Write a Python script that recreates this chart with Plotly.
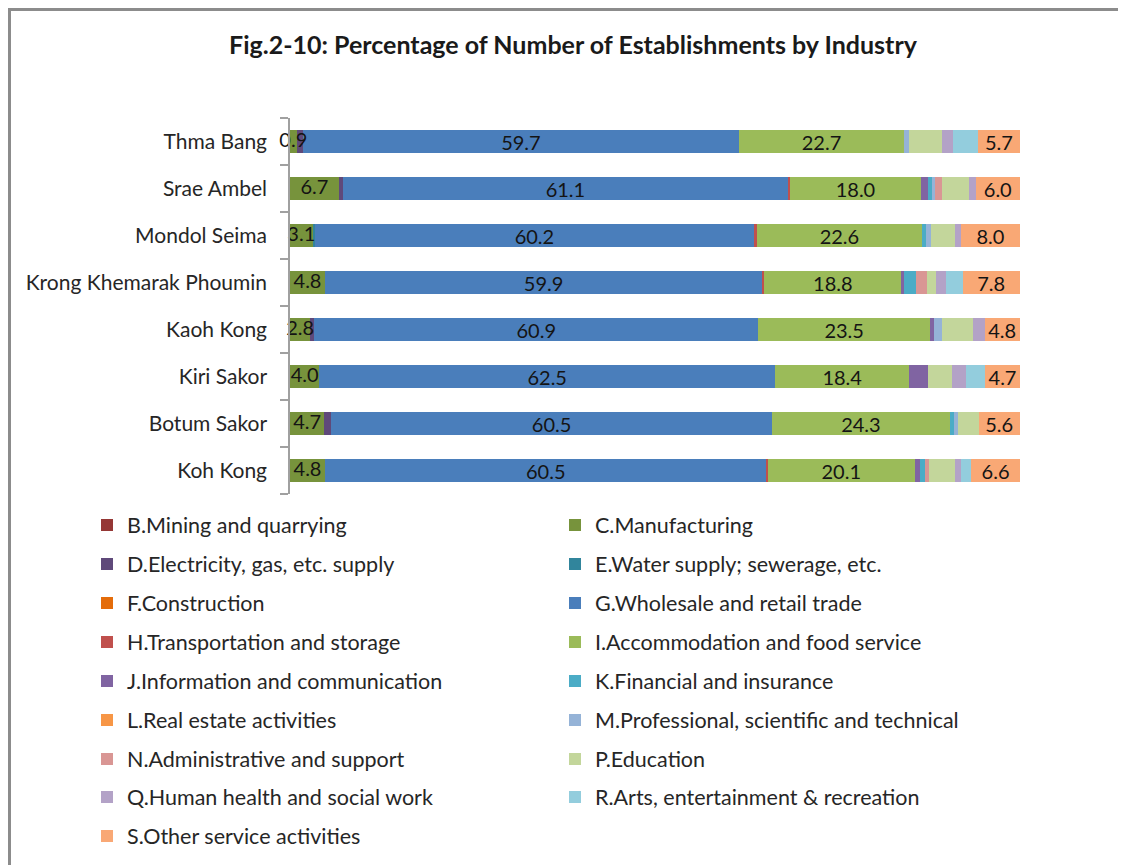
import plotly.graph_objects as go

regions = ["Koh Kong", "Botum Sakor", "Kiri Sakor", "Kaoh Kong",
           "Krong Khemarak Phoumin", "Mondol Seima", "Srae Ambel", "Thma Bang"]

industries = ["B.Mining and quarrying", "C.Manufacturing",
              "D.Electricity, gas, etc. supply", "E.Water supply; sewerage, etc.",
              "F.Construction", "G.Wholesale and retail trade",
              "H.Transportation and storage", "I.Accommodation and food service",
              "J.Information and communication", "K.Financial and insurance",
              "L.Real estate activities", "M.Professional, scientific and technical",
              "N.Administrative and support", "P.Education",
              "Q.Human health and social work", "R.Arts, entertainment & recreation",
              "S.Other service activities"]

# values per industry, in region order (Koh Kong ... Thma Bang)
B = [0.0, 0.0, 0.0, 0.0, 0.0, 0.0, 0.0, 0.0]
C = [4.8, 4.7, 4.0, 2.8, 4.8, 3.1, 6.7, 0.9]
D = [0.0, 0.9, 0.0, 0.5, 0.0, 0.0, 0.5, 0.9]
E = [0.0, 0.0, 0.0, 0.0, 0.0, 0.3, 0.0, 0.0]
F = [0.0, 0.0, 0.0, 0.0, 0.0, 0.0, 0.0, 0.0]
G = [60.5, 60.5, 62.5, 60.9, 59.9, 60.2, 61.1, 59.7]
H = [0.2, 0.0, 0.0, 0.0, 0.3, 0.4, 0.2, 0.0]
I = [20.1, 24.3, 18.4, 23.5, 18.8, 22.6, 18.0, 22.7]
J = [0.7, 0.0, 2.5, 0.6, 0.4, 0.0, 1.0, 0.0]
K = [0.7, 0.6, 0.0, 0.0, 1.6, 0.5, 0.5, 0.0]
L = [0.0, 0.0, 0.0, 0.0, 0.0, 0.0, 0.0, 0.0]
M = [0.0, 0.5, 0.0, 1.0, 0.0, 0.7, 0.4, 0.6]
N = [0.6, 0.0, 0.0, 0.0, 1.5, 0.0, 0.9, 0.0]
P = [3.5, 2.9, 3.3, 4.3, 1.3, 3.3, 3.8, 4.5]
Q = [0.8, 0.0, 2.0, 1.6, 1.3, 0.9, 0.9, 1.5]
R = [1.5, 0.0, 2.6, 0.0, 2.3, 0.0, 0.0, 3.5]
S = [6.6, 5.6, 4.7, 4.8, 7.8, 8.0, 6.0, 5.7]

series = [B, C, D, E, F, G, H, I, J, K, L, M, N, P, Q, R, S]
labelled = {"G.Wholesale and retail trade",
            "I.Accommodation and food service", "S.Other service activities"}

colors = ["#953735", "#77933C", "#5F497A", "#31859C", "#E46C0A", "#4A7EBB",
          "#C0504D", "#9BBB59", "#8064A2", "#4BACC6", "#F79646", "#95B3D7",
          "#D99694", "#C3D69B", "#B3A2C7", "#93CDDD", "#F9A875"]

FONT = "Lato, 'Open Sans', sans-serif"
LABEL_FONT = dict(family=FONT, size=20, color="#141414")

fig = go.Figure()
for i, (name, vals) in enumerate(zip(industries, series)):
    show = name in labelled
    legname = "legend" if i == 0 else f"legend{i+1}"
    fig.add_trace(go.Bar(
        y=regions, x=vals, name=name, orientation="h",
        marker=dict(color=colors[i], line=dict(width=0)),
        text=[f"{v:.1f}" for v in vals] if show else None,
        textposition="inside" if show else "none",
        insidetextanchor="middle", textangle=0,
        textfont=LABEL_FONT, cliponaxis=False,
        legend=legname,
        hoverinfo="x+name",
    ))

# Manufacturing labels drawn on top so that they may overflow their narrow segments
c_mid = [b + c / 2 for b, c in zip(B, C)]
fig.add_trace(go.Scatter(
    x=c_mid, y=regions, mode="text", text=[f"{v:.1f}" for v in C],
    textposition="middle center", textfont=LABEL_FONT,
    showlegend=False, hoverinfo="skip", cliponaxis=False,
))

layout_legends = {}
row_y = [517, 556, 595, 634, 673, 712, 751, 789, 828]
for i in range(len(industries)):
    legname = "legend" if i == 0 else f"legend{i+1}"
    col = i % 2
    row = i // 2
    layout_legends[legname] = dict(
        xref="container", yref="container",
        x=(79 if col == 0 else 547) / 1126,
        y=1 - row_y[row] / 865,
        xanchor="left", yanchor="middle",
        font=dict(family=FONT, size=21.5, color="#262626"),
        bgcolor="rgba(0,0,0,0)", itemclick=False, itemdoubleclick=False,
    )

# plot area in figure pixels
PL, PR, PT, PB = 282, 1012, 110, 486

fig.update_layout(
    width=1126, height=865, showlegend=True,
    barmode="stack", bargap=0.5,
    paper_bgcolor="white", plot_bgcolor="white",
    margin=dict(l=PL, r=1126 - PR, t=PT, b=865 - PB, autoexpand=False),
    title=dict(text="<b>Fig.2-10: Percentage of Number of Establishments by Industry</b>",
               x=565 / 1126, xanchor="center", y=1 - 37 / 865, yanchor="middle",
               font=dict(family=FONT, size=25, color="#1a1a1a")),
    uniformtext=dict(mode="show", minsize=20),
    xaxis=dict(range=[0, 100.05], visible=False, fixedrange=True),
    yaxis=dict(showline=True, linecolor="#A0A0A0", linewidth=1.5,
               ticks="outside", ticklen=8, tickcolor="#A0A0A0", tickwidth=1.5,
               tickson="boundaries", ticklabelstandoff=17,
               tickfont=dict(family=FONT, size=21, color="#262626"),
               showgrid=False, zeroline=False, fixedrange=True),
    shapes=[dict(type="rect", xref="paper", yref="paper",
                 x0=(1.5 - PL) / (PR - PL), x1=(1135 - PL) / (PR - PL),
                 y0=(PB - 880) / (PB - PT), y1=(PB - 1.5) / (PB - PT),
                 line=dict(color="#8C8C8C", width=3), fillcolor="rgba(0,0,0,0)",
                 layer="below")],
    **layout_legends,
)

fig.write_html("out.html")
